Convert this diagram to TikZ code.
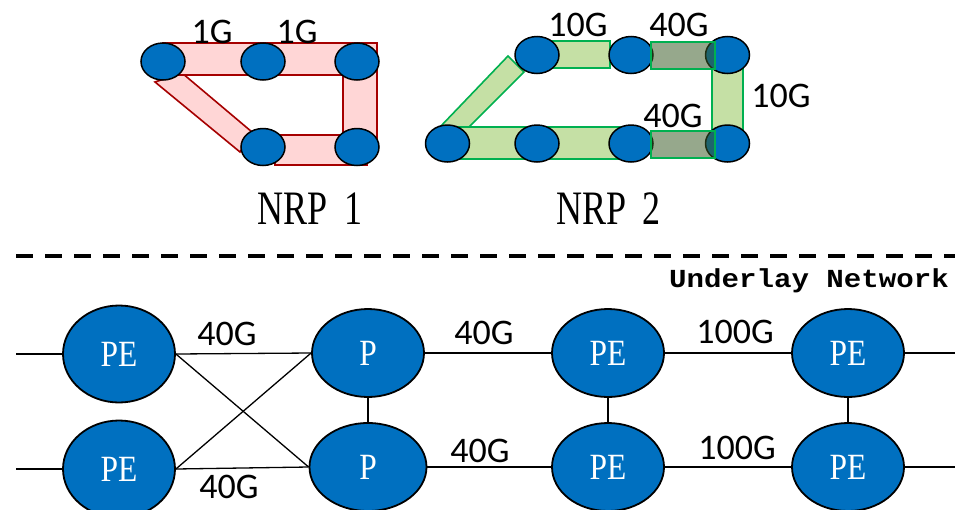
\documentclass[tikz,border=0pt]{standalone}
\usepackage{fontspec}
\setmainfont{Liberation Serif}
\newfontfamily\ratefont{Carlito}
\newfontfamily\netfont{Liberation Mono}
\usetikzlibrary{shapes.geometric}

\definecolor{nodeblue}{RGB}{0,112,192}
\definecolor{pinkfill}{RGB}{255,214,214}
\definecolor{pinkline}{RGB}{166,0,0}
\definecolor{greenfill}{RGB}{197,224,165}
\definecolor{greenline}{RGB}{0,176,80}
\definecolor{darkband}{RGB}{57,91,38}

\begin{document}
\begin{tikzpicture}[x=1pt,y=-1pt,
  vnode/.style={ellipse,draw=black,line width=1.5pt,fill=nodeblue,
    minimum width=44pt,minimum height=37pt,inner sep=0},
  router/.style={ellipse,draw=black,line width=1.8pt,fill=nodeblue,
    minimum width=112pt,minimum height=88pt,inner sep=0,text=white,
    font=\fontsize{37}{40}\selectfont},
  tallrouter/.style={router,minimum height=97pt},
  rate/.style={font=\ratefont\fontsize{36}{38}\selectfont,inner sep=0},
  nrp/.style={font=\fontsize{48}{50}\selectfont,inner sep=0},
  redband/.style={fill=pinkfill,draw=pinkline,line width=1.6pt},
  greenband/.style={fill=greenfill,draw=greenline,line width=1.6pt},
  fastband/.style={fill=darkband,fill opacity=0.53,draw=greenline,line width=1.6pt},
  link/.style={line width=1.3pt},
]
\useasboundingbox (0,0) rectangle (955,509);

% ---------- NRP 1: slice bands ----------
\draw[redband] (155,82) -- (182,73) -- (252,132) -- (240,152) -- cycle;
\draw[redband] (163,43) rectangle (377,75);
\draw[redband] (343,61) rectangle (377,147);
\draw[redband] (275,135) rectangle (367,165);

\node[vnode] (a1) at (163,61.5) {};
\node[vnode] (a2) at (263,61.5) {};
\node[vnode] (a3) at (357,61.5) {};
\node[vnode] (a4) at (263,147) {};
\node[vnode] (a5) at (357,147) {};

\node[rate] (r1) at (212,32) {1G};
\node[rate] (r2) at (297,32) {1G};
\node[nrp] (n1) at (310,209) {\scalebox{0.75}[1]{NRP\hspace{22pt}1}};

% ---------- NRP 2: slice bands ----------
\draw[greenband] (440,127) -- (468,128) -- (524,72) -- (508,56) -- cycle;
\draw[greenband] (447,127) rectangle (623,159);
\draw[greenband] (537,41) rectangle (610,68);
\draw[greenband] (712,55) rectangle (743,143);

\node[vnode] (b1) at (537,55) {};
\node[vnode] (b2) at (631,55) {};
\node[vnode] (b3) at (727.5,55) {};
\node[vnode] (b4) at (447.5,143.5) {};
\node[vnode] (b5) at (537,143.5) {};
\node[vnode] (b6) at (631,143.5) {};
\node[vnode] (b7) at (727.5,143.5) {};

\draw[fastband] (651,42) rectangle (715,69);
\draw[fastband] (651,131) rectangle (715,158);

\node[rate] (r3) at (578,25) {10G};
\node[rate] (r4) at (679,25) {40G};
\node[rate] (r5) at (781,96) {10G};
\node[rate] (r6) at (673,116) {40G};
\node[nrp] (n2) at (608.5,209) {\scalebox{0.75}[1]{NRP\hspace{22pt}2}};

% ---------- separator ----------
\draw[line width=3.5pt,dash pattern=on 16.7pt off 12.3pt] (16,256) -- (955,256);
\node[font=\netfont\bfseries\fontsize{26}{28}\selectfont,inner sep=0,anchor=base east]
  (ul) at (949,287) {\scalebox{1.12}[1]{Underlay Network}};

% ---------- underlay routers ----------
\node[tallrouter] (pe1) at (119,354) {\scalebox{0.85}[1]{PE}};
\node[tallrouter] (pe2) at (119,469) {\scalebox{0.85}[1]{PE}};
\node[router] (p1) at (368,353) {\scalebox{0.85}[1]{P}};
\node[router,minimum width=117pt] (p2) at (368,467) {\scalebox{0.85}[1]{P}};
\node[router] (pe3) at (608,353) {\scalebox{0.85}[1]{PE}};
\node[router] (pe4) at (608,467) {\scalebox{0.85}[1]{PE}};
\node[router] (pe5) at (848,353) {\scalebox{0.85}[1]{PE}};
\node[router] (pe6) at (848,467) {\scalebox{0.85}[1]{PE}};

\coordinate (inA) at (16,354);
\coordinate (inB) at (16,469);
\coordinate (outA) at (955,353);
\coordinate (outB) at (955,467);

\draw[link] (inA) -- (pe1.west);
\draw[link] (inB) -- (pe2.west);
\draw[link] (pe1.east) -- (p1.west);
\draw[link] (pe2.east) -- (p2.west);
\draw[link] (pe1.east) -- (p2.west);
\draw[link] (pe2.east) -- (p1.west);
\draw[link] (p1.south) -- (p2.north);
\draw[link] (p1.east) -- (pe3.west);
\draw[link] (p2.east) -- (pe4.west);
\draw[link] (pe3.south) -- (pe4.north);
\draw[link] (pe3.east) -- (pe5.west);
\draw[link] (pe4.east) -- (pe6.west);
\draw[link] (pe5.south) -- (pe6.north);
\draw[link] (pe5.east) -- (outA);
\draw[link] (pe6.east) -- (outB);

\node[rate] (r7) at (227,334) {40G};
\node[rate] (r8) at (229,487) {40G};
\node[rate] (r9) at (484,333) {40G};
\node[rate] (r10) at (480,451) {40G};
\node[rate] (r11) at (735,332) {100G};
\node[rate] (r12) at (737,448) {100G};
\end{tikzpicture}
\end{document}
